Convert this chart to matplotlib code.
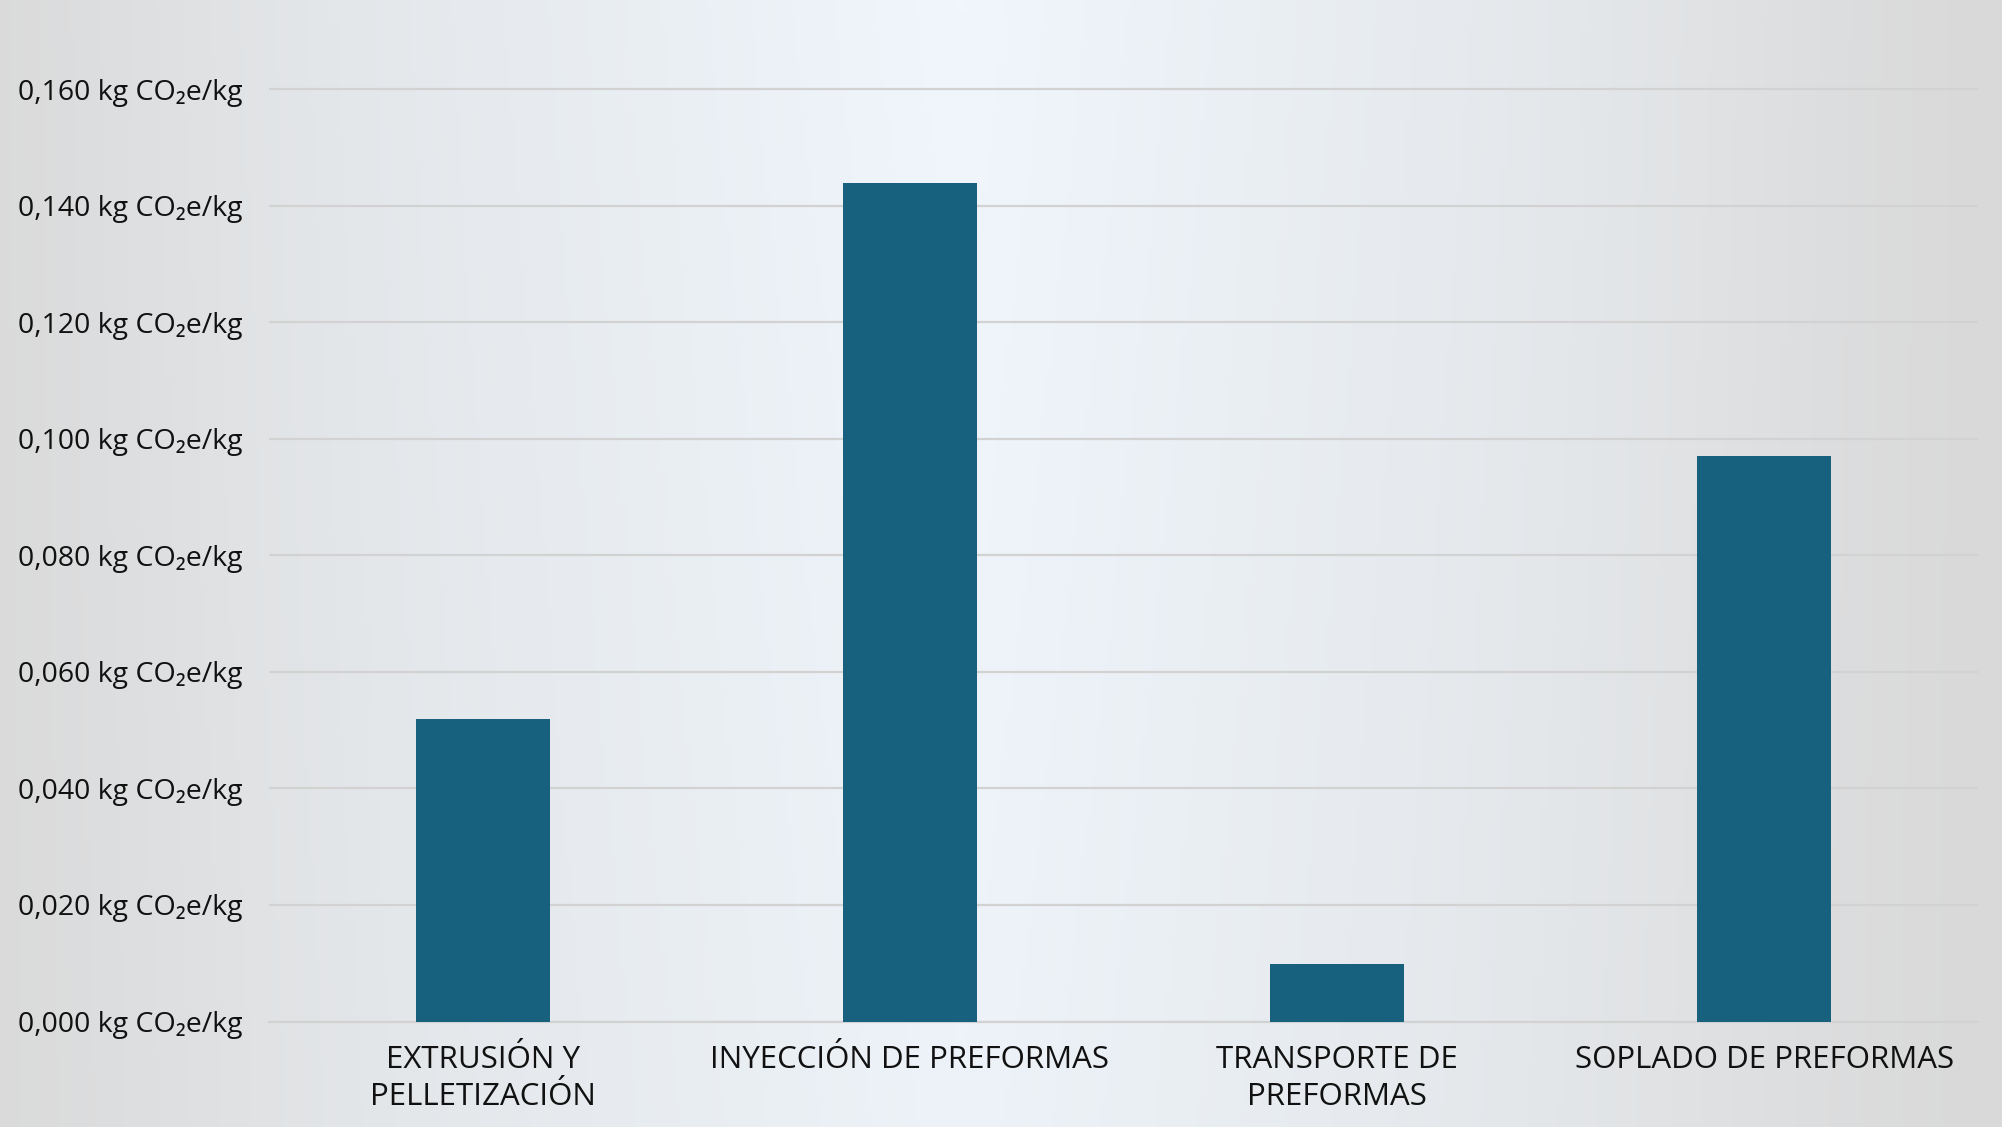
import matplotlib.pyplot as plt
import numpy as np
from matplotlib.colors import LinearSegmentedColormap

# data
categories = ["EXTRUSIÓN Y\nPELLETIZACIÓN", "INYECCIÓN DE PREFORMAS",
              "TRANSPORTE DE\nPREFORMAS", "SOPLADO DE PREFORMAS"]
values = [0.052, 0.144, 0.0099, 0.097]
yticks = [0.0, 0.02, 0.04, 0.06, 0.08, 0.10, 0.12, 0.14, 0.16]

plt.rcParams['font.family'] = ['Open Sans', 'DejaVu Sans']

fig = plt.figure(figsize=(20.02, 11.27), dpi=100)

# background gradient: grey at the sides, pale blue in the middle
bg = fig.add_axes([0, 0, 1, 1], zorder=0)
cmap = LinearSegmentedColormap.from_list(
    "bg", ["#d9d9d9", "#e4e7ea", "#eaeff4", "#f0f6fc"])
xx = np.linspace(0, 1, 400)
yy = np.linspace(0, 1, 200)
X, Y = np.meshgrid(xx, yy)
Z = np.clip(1 - np.abs(X - 0.48) / 0.52, 0, 1) ** 1.2 * (0.85 + 0.15 * Y)
bg.imshow(Z, cmap=cmap, aspect='auto', extent=[0, 1, 0, 1], origin='lower',
          vmin=0, vmax=1)
bg.axis('off')

ax = fig.add_axes([269 / 2002, 1 - 1021.5 / 1127, (1978 - 269) / 2002,
                   (1021.5 - 89.4) / 1127 * (0.17 / 0.16)], zorder=1)
ax.patch.set_alpha(0)

x = np.arange(len(categories))
ax.bar(x, values, width=0.314, color="#17617f", zorder=3)

ax.set_xlim(-0.5, len(categories) - 0.5)
ax.set_ylim(0, 0.17)
ax.set_yticks(yticks)
ax.set_yticklabels([f"{v:.3f}".replace(".", ",") + " kg CO₂e/kg" for v in yticks],
                   fontsize=20.5)
ax.set_xticks(x)
ax.set_xticklabels(categories, linespacing=1.32, fontsize=22.5)

ax.grid(axis='y', color="#d2d2d2", linewidth=1.6, zorder=0)
for s in ['top', 'right', 'left']:
    ax.spines[s].set_visible(False)
ax.spines['bottom'].set_color("#d2d2d2")
ax.spines['bottom'].set_linewidth(1.6)
ax.tick_params(axis='both', length=0, colors="#111111")
ax.tick_params(axis='y', pad=19)
ax.tick_params(axis='x', pad=17)

fig.savefig("out.png", dpi=100)
